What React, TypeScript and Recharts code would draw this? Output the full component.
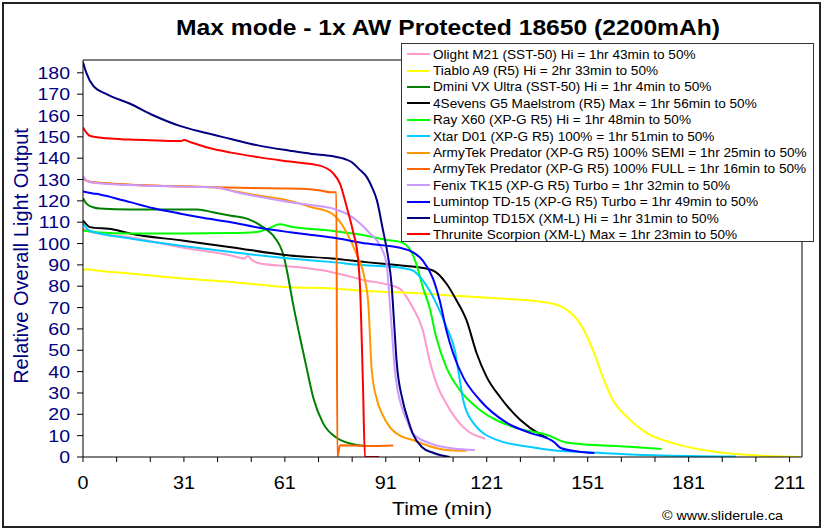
import React from "react";
import { LineChart, Line, XAxis, YAxis, ReferenceLine } from "recharts";

// runtime curves, [minutes, relative output]
const olightM21 = [[0,107],[2,105.5],[14,103],[29,98.3],[44,94.4],[48,93],[49,94.3],[50,92.5],[52.6,90.7],[61.5,89.3],[74,86.6],[84,82.7],[90,81],[94,79],[98,70],[101,59.4],[103,45.3],[105,34.6],[108,25],[113,14],[119.5,8.7]];
const tiabloA9 = [[0,87.4],[1,88],[4,87.4],[14,86],[29,83.7],[44,82],[61.5,79.5],[74,79],[84,77.8],[100,76.7],[109,75.7],[124,74.3],[139,72],[144,68.7],[147.7,62.6],[151.6,50],[154.5,37.4],[157.5,26.6],[161.7,18.7],[167.6,11.2],[175.3,6.5],[188.4,2.3],[203,0.5],[213,0]];
const dminiVX = [[0,121.2],[1,118.7],[3,117],[5,116.4],[14,116],[29,116],[34,116],[38.6,114.7],[44,113],[48.7,111.7],[53.5,107.7],[56.5,103.8],[58.5,99],[59.5,95],[60.6,87.4],[62.4,72],[64.5,56],[66.6,40.7],[68.4,28],[71.3,16],[75.5,8.9],[81.4,5.6],[84,5.1]];
const foursevensG5 = [[0,110.8],[1,109],[2,107.7],[9,106.6],[14,104.7],[29,101.5],[44,98.3],[61.5,94.4],[74,93],[84,91.3],[94,89.8],[98,89.2],[104,87.4],[108,81.3],[111,73.4],[114,64],[117,48.6],[120,37.4],[124,28],[130,17.3],[136,10.5],[138,9]];
const rayX60 = [[0,106.1],[5,105.2],[14,104.7],[29,104.7],[44,104.9],[52,105.5],[55,107],[58.5,109],[61.5,108],[74,106],[84,103.8],[91,101.5],[94.2,100.8],[97,97.7],[99,90.7],[101,79.5],[103,70],[105,56],[108,42],[112,31.3],[118,22],[128,14],[138,10.3],[144,6.7],[163.5,4.7],[172,3.7]];
const xtarD01 = [[0,109.4],[2,106],[14,102.4],[29,99],[44,96],[61.5,93],[74,91.3],[84,89.8],[93,89],[98,87.4],[101,82.7],[105,72],[108,61],[110.5,50],[112,36],[113,26.6],[116,16],[123,8],[133,4.7],[139,3.3],[154,1.9],[170,0.8],[194,0.2]];
const armytekSemi = [[0,131],[1,129.5],[3,128.7],[14,127.6],[25,127],[39,126.4],[45,124.5],[52,122.5],[61.5,120],[68,117],[74,114],[76,111],[78.4,105],[81.3,95],[83.8,83],[84.8,72],[85.8,41],[87.4,26.6],[88.8,20.6],[91.2,14],[95,9.4],[98,8],[103,5],[108,3.3],[114,2.9]];
const armytekFull = [[0,131],[1,129.5],[3,128.7],[14,127.6],[25,127],[38.6,126.4],[50,126],[61.5,125.8],[70,125],[74,124],[75.3,124],[75.6,0],[76.4,5.5],[85,5.2],[90,5.3],[92.2,5.4]];
const fenixTK15 = [[0,131.8],[1,129.5],[3,128.5],[14,127.4],[25,126.8],[39,126.4],[45,124.3],[52,122],[61.5,119.4],[68,118],[74.3,116.4],[80,112.4],[85.3,104.7],[88.3,99],[90.2,90.7],[91.2,72],[92.7,40.7],[95,22],[96.3,17],[98,11],[103,6.5],[110,4],[116.5,3.3]];
const lumintopTD15 = [[0,124.4],[3,123.5],[5,123],[9,121.5],[14,119.4],[21,116.5],[29,114],[36,112],[44,110],[52,107.5],[61.5,105.3],[68,104],[74,102.8],[84.4,100],[94.2,98],[98,96],[101,92],[104,83.7],[106,73.4],[108,59.4],[110,48.6],[113,37.4],[118,26.6],[126,16],[133,11.2],[139,8],[140,7],[142,4.2],[147,2.6],[152,1.9]];
const lumintopTD15X = [[0,185],[1,180],[3,174],[7,170],[14,165.5],[21,160],[29,155],[36,152],[44,149],[52,146],[61.5,143.5],[68,142],[74,141],[78,139.5],[80,138],[82,135],[84.4,131],[86,126],[87.4,120],[89,107.5],[90.7,93.5],[91.7,81],[92.5,62],[93.2,45],[95,26.6],[96.5,18],[98,11],[100.7,4.7],[104,2],[109,0]];
const thruniteScorpion = [[0,154.4],[1,152],[2,150.5],[7,149.3],[14,148.7],[22,148.3],[29,148],[30,148.5],[32,147.5],[37,145],[44,142.6],[52,140.5],[61.5,138.4],[70.4,136.5],[74.3,133],[76.4,128],[78.4,117],[80.2,106],[81.7,93.5],[82.3,81],[83.2,34.6],[83.8,0],[88,0]];

const NAMES = [
  "Olight M21 (SST-50) Hi = 1hr 43min to 50%",
  "Tiablo A9 (R5) Hi = 2hr 33min to 50%",
  "Dmini VX Ultra (SST-50) Hi = 1hr 4min to 50%",
  "4Sevens G5 Maelstrom (R5) Max = 1hr 56min to 50%",
  "Ray X60 (XP-G R5) Hi = 1hr 48min to 50%",
  "Xtar D01 (XP-G R5) 100% = 1hr 51min to 50%",
  "ArmyTek Predator (XP-G R5) 100% SEMI = 1hr 25min to 50%",
  "ArmyTek Predator (XP-G R5) 100% FULL = 1hr 16min to 50%",
  "Fenix TK15 (XP-G R5) Turbo = 1hr 32min to 50%",
  "Lumintop TD-15 (XP-G R5) Turbo = 1hr 49min to 50%",
  "Lumintop TD15X (XM-L) Hi = 1hr 31min to 50%",
  "Thrunite Scorpion (XM-L) Max = 1hr 23min to 50%",
];
const CURVES = [olightM21, tiabloA9, dminiVX, foursevensG5, rayX60, xtarD01, armytekSemi, armytekFull, fenixTK15, lumintopTD15, lumintopTD15X, thruniteScorpion];
const COLORS = ["#FF99CC", "#FFFF00", "#008000", "#000000", "#00FF00", "#00CCFF", "#FF9900", "#FF6600", "#CC99FF", "#0000FF", "#000080", "#FF0000"];

const X_TICKS = [0, 10, 20, 30, 40, 50, 60, 70, 80, 90, 100, 110, 120, 130, 140, 150, 160, 170, 180, 190, 200, 210];
const X_LABELS: Record<number, string> = { 0: "0", 30: "31", 60: "61", 90: "91", 120: "121", 150: "151", 180: "181", 210: "211" };
const Y_TICKS = [0, 10, 20, 30, 40, 50, 60, 70, 80, 90, 100, 110, 120, 130, 140, 150, 160, 170, 180];

const X_MAX = 213.7;
const Y_MAX = 186;
const FONT = '"Liberation Sans", Arial, sans-serif';

// the source picture's text is a bit wider than plain Arial
const XTick = ({ x, y, payload }: any) => {
  const label = X_LABELS[payload.value];
  if (!label) return null;
  return (
    <text transform={`translate(${x},${y}) scale(1.1,1)`} textAnchor="middle" dy="0.71em" fontSize={18} fill="#000" fontFamily={FONT}>
      {label}
    </text>
  );
};

const YTick = ({ x, y, payload }: any) => (
  <text transform={`translate(${x},${y}) scale(1.15,1)`} textAnchor="end" dy="0.355em" fontSize={17} fill="#000080" fontFamily={FONT}>
    {payload.value}
  </text>
);

export default function App() {
  const series = CURVES.map((pts, i) => ({
    name: NAMES[i],
    color: COLORS[i],
    data: pts.map(([t, v]) => ({ t, v })),
  }));

  return (
    <div style={{ position: "relative", width: 822, height: 530, background: "#fff", fontFamily: FONT, overflow: "hidden" }}>
      <style>{"body{margin:0}"}</style>
      <div style={{ position: "absolute", left: 2, top: 2, width: 815, height: 522, border: "2px solid #222" }} />
      <div style={{ position: "absolute", left: 448, top: 28, transform: "translate(-50%, -50%) scaleX(1.12)", fontSize: 22, fontWeight: "bold", color: "#000", whiteSpace: "nowrap" }}>
        Max mode - 1x AW Protected 18650 (2200mAh)
      </div>

      <LineChart width={822} height={530} margin={{ top: 60, right: 20, bottom: 13, left: 0 }} style={{ position: "absolute", left: 0, top: 0 }}>
        <XAxis
          type="number"
          dataKey="t"
          domain={[0, X_MAX]}
          ticks={X_TICKS}
          interval={0}
          allowDataOverflow
          height={60}
          tickSize={5}
          tickMargin={14}
          stroke="#000"
          tick={<XTick />}
        />
        <YAxis
          type="number"
          domain={[0, Y_MAX]}
          ticks={Y_TICKS}
          interval={0}
          allowDataOverflow
          width={83}
          tickSize={6}
          tickMargin={7}
          stroke="#000"
          tick={<YTick />}
        />
        <ReferenceLine y={Y_MAX} stroke="#000" />
        <ReferenceLine x={X_MAX} stroke="#000" />
        {series.map((s) => (
          <Line
            key={s.name}
            data={s.data}
            dataKey="v"
            name={s.name}
            type="monotone"
            stroke={s.color}
            strokeWidth={2}
            dot={false}
            isAnimationActive={false}
          />
        ))}
      </LineChart>

      <div style={{ position: "absolute", left: 401, top: 43, width: 413, height: 199, background: "#fff", border: "1px solid #333", paddingTop: 2, boxSizing: "border-box" }}>
        {series.map((s) => (
          <div key={s.name} style={{ display: "flex", alignItems: "center", height: 16.4, fontSize: 13.6, color: "#000", whiteSpace: "nowrap" }}>
            <span style={{ display: "inline-block", width: 23, height: 2, background: s.color, marginLeft: 5, marginRight: 3, flexShrink: 0 }} />
            {s.name}
          </div>
        ))}
      </div>

      <div style={{ position: "absolute", left: 21, top: 256, transform: "translate(-50%, -50%) rotate(-90deg)", fontSize: 20, color: "#000080", whiteSpace: "nowrap" }}>
        Relative Overall Light Output
      </div>
      <div style={{ position: "absolute", left: 442, top: 509, transform: "translate(-50%, -50%) scaleX(1.17)", fontSize: 18, color: "#000", whiteSpace: "nowrap" }}>
        Time (min)
      </div>
      <div style={{ position: "absolute", left: 662, top: 515, transform: "translateY(-50%) scaleX(1.1)", transformOrigin: "left center", fontSize: 13, color: "#000", whiteSpace: "nowrap" }}>
        © www.sliderule.ca
      </div>
    </div>
  );
}
